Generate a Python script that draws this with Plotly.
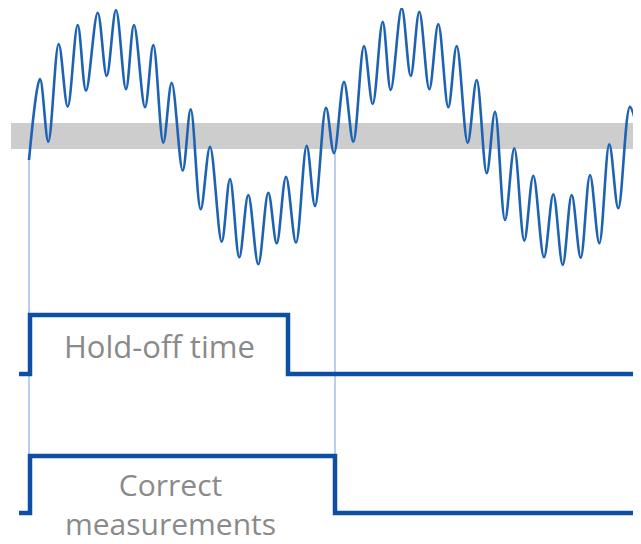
import plotly.graph_objects as go

# rippled sine: peaks and troughs (pixel units, y down)
wave_x = [29, 40, 48.3, 58.7, 67.7, 77.7, 86, 97.7, 106.7, 116, 126, 134, 145, 153.3,
          163.3, 171.7, 182.7, 190.7, 200.7, 210, 221.7, 230, 239.3, 248.3, 258.3, 268.3,
          276.7, 286, 296, 306.7, 315, 326, 334, 344, 353.3, 364, 372.7, 382.7, 390.7,
          401.7, 410.7, 419.3, 429.3, 438.3, 448.3, 456.7, 467.7, 476.7, 486.7, 495, 505,
          514.3, 524.3, 533.3, 544, 553.3, 562.7, 571.7, 580.7, 590, 599.3, 609.3, 618.3,
          630, 641]
wave_y = [160, 79, 141.7, 44, 106.7, 25, 90.7, 12.7, 76, 10, 89.3, 25, 107.3, 45,
          142.7, 82.7, 170.7, 109.3, 209.3, 146.7, 241.7, 179, 257.3, 195, 264.3, 192.7,
          243.3, 176.7, 242.7, 145.7, 206, 107.7, 153.3, 81.7, 141.7, 46, 104, 21.7, 90,
          8.3, 76, 11.7, 89.3, 24, 107.3, 46, 142.7, 80, 173.3, 111.7, 220, 148.3,
          240.7, 175.7, 257.3, 194.3, 265, 195, 257.7, 175, 243.3, 144.3, 208.3,
          106.7, 150]

# trigger band
band_x = [11, 641]
band_lo, band_hi = 123, 149

# step signals (hv steps)
hold_x = [19, 30, 288, 641]
hold_y = [374, 315, 374, 374]
meas_x = [19, 30, 335, 641]
meas_y = [513, 456, 513, 513]

# thin guide lines from the wave down to the lower pulse
guide_x = [29, 335]
guide_top = [160, 153]
guide_bottom = 456

WAVE = "#1d62b3"
STEP = "#0c4fa3"
GUIDE = "#8ab0df"
TEXT = "#8a8a8a"

fig = go.Figure()

fig.add_trace(go.Scatter(x=band_x + band_x[::-1], y=[band_lo, band_lo, band_hi, band_hi],
    fill="toself", fillcolor="#cdcdcd", line=dict(width=0), mode="lines", hoverinfo="skip"))

for gx, gt in zip(guide_x, guide_top):
    fig.add_trace(go.Scatter(x=[gx, gx], y=[gt, guide_bottom], mode="lines",
        line=dict(color=GUIDE, width=1.2), hoverinfo="skip"))

fig.add_trace(go.Scatter(x=wave_x, y=wave_y, mode="lines",
    line=dict(color=WAVE, width=2.6, shape="spline", smoothing=1.0)))

for sx, sy in [(hold_x, hold_y), (meas_x, meas_y)]:
    fig.add_trace(go.Scatter(x=sx, y=sy, mode="lines",
        line=dict(color=STEP, width=4.5, shape="hv")))

fig.add_annotation(x=159, y=346, text="Hold-off time", showarrow=False,
    xanchor="center", yanchor="middle",
    font=dict(family="Open Sans", size=31, color=TEXT))
fig.add_annotation(x=170, y=504, text="Correct<br>measurements", showarrow=False,
    xanchor="center", yanchor="middle", align="center", borderpad=0,
    font=dict(family="Open Sans", size=30, color=TEXT))

# page body has an 8px margin, so the axes start at 8 to keep pixel units aligned
fig.update_layout(width=633, height=536, margin=dict(l=0, r=0, t=0, b=0),
    showlegend=False, plot_bgcolor="white", paper_bgcolor="white",
    xaxis=dict(range=[8, 641], visible=False),
    yaxis=dict(range=[544, 8], visible=False))
fig.write_html("out.html")
